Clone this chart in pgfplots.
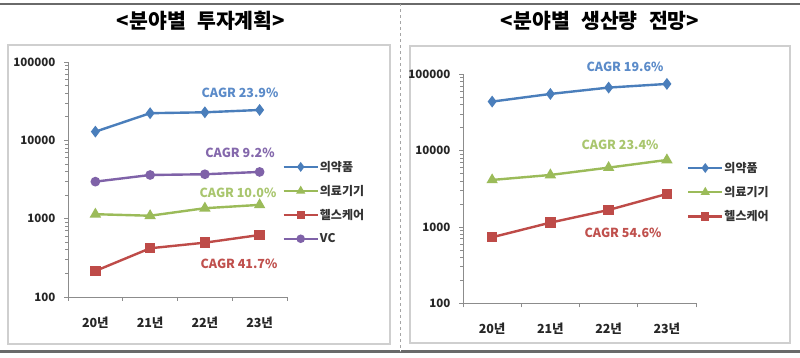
\documentclass[border=0pt]{standalone}
\usepackage{fontspec}
\setmainfont{Noto Sans CJK KR}
\usepackage{pgfplots}
\pgfplotsset{compat=1.18}
\definecolor{cblue}{HTML}{4A7EBB}
\definecolor{cgreen}{HTML}{9BBB59}
\definecolor{cred}{HTML}{BE4B48}
\definecolor{cpurple}{HTML}{7F62A8}
\definecolor{tblue}{HTML}{5B8BC9}
\definecolor{tgreen}{HTML}{A9C66E}
\definecolor{tred}{HTML}{C0504D}
\definecolor{tpurple}{HTML}{8468AC}
\definecolor{axgray}{HTML}{8C8C8C}
\definecolor{boxgray}{HTML}{CFCFCF}
\definecolor{rulegray}{HTML}{6A6A6A}
\pgfplotsset{
  legend image code/.code={\draw[mark repeat=2,mark phase=2,#1,mark size=3bp] plot coordinates {(0bp,0bp) (17bp,0bp) (34bp,0bp)};},
  sblue/.style={color=cblue, line width=2.4bp, mark=diamond*, mark size=4bp, mark options={solid, fill=cblue}},
  sgreen/.style={color=cgreen, line width=2.4bp, mark=triangle*, mark size=4.2bp, mark options={solid, fill=cgreen}},
  sred/.style={color=cred, line width=2.4bp, mark=square*, mark size=4bp, mark options={solid, fill=cred}},
  spurple/.style={color=cpurple, line width=2.4bp, mark=*, mark size=3.6bp, mark options={solid, fill=cpurple}},
}
\begin{document}
\begin{tikzpicture}[x=1bp,y=1bp]
\useasboundingbox (0,0) rectangle (800,357);
\fill[white] (0,0) rectangle (800,357);
% frame lines
\draw[rulegray, line width=2bp] (0,353) -- (800,353);
\draw[rulegray, line width=2.5bp] (0,5.5) -- (800,5.5);
\draw[boxgray!80!black, line width=1.4bp] (400.5,5.5) -- (400.5,353);
\draw[white, line width=0.7bp, dash pattern=on 3bp off 3bp] (400.5,6) -- (400.5,352);
\draw[boxgray, line width=1.5bp] (8,13) rectangle (390,312);
\draw[boxgray, line width=1.5bp] (410,14) rectangle (790,311);
% titles
\node[font=\fontsize{20.5bp}{22bp}\selectfont\bfseries] at (201,336) {<분야별\hspace{0.55em}투자계획>};
\node[font=\fontsize{20.5bp}{22bp}\selectfont\bfseries] at (600,336) {<분야별\hspace{0.55em}생산량\hspace{0.55em}전망>};

% left chart
\begin{axis}[at={(68bp,60bp)}, anchor=south west, width=219bp, height=235bp,
    scale only axis, clip=false,
    xmin=0, xmax=4,
    ymode=log, ymin=100, ymax=100000,
    axis x line*=bottom, axis y line*=left,
    axis line style={draw=axgray, line width=0.8bp},
    xtick={0.5,1.5,2.5,3.5},
    xticklabels={20년,21년,22년,23년},
    major x tick style={draw=none},
    extra x ticks={0,1,2,3,4},
    extra x tick labels={},
    extra x tick style={major x tick style={draw=axgray, line width=0.8bp}},
    ytick={100,1000,10000,100000},
    yticklabels={100,1000,10000,100000},
    minor ytick={},
    major tick length=4bp, tick align=outside,
    tick style={draw=axgray, line width=0.8bp},
    tick label style={font=\fontsize{11.5bp}{13bp}\selectfont\bfseries, text=black!85},
    xticklabel style={yshift=-12bp, font=\fontsize{12.5bp}{14bp}\selectfont\bfseries},
    yticklabel style={xshift=-5bp},
    legend cell align=left,
    legend style={draw=none, fill=none, font=\fontsize{12bp}{14bp}\selectfont\bfseries, text=black!80,
      row sep=10.5bp, nodes={inner sep=1bp}, at={(0.965,0.592)}, anchor=north west}]
\addplot[sblue] coordinates {(0.5,12900) (1.5,22200) (2.5,22800) (3.5,24400)};
\addlegendentry{의약품}
\addplot[sgreen] coordinates {(0.5,1140) (1.5,1090) (2.5,1360) (3.5,1500)};
\addlegendentry{의료기기}
\addplot[sred] coordinates {(0.5,215) (1.5,419) (2.5,494) (3.5,619)};
\addlegendentry{헬스케어}
\addplot[spurple] coordinates {(0.5,2970) (1.5,3610) (2.5,3690) (3.5,3950)};
\addlegendentry{VC}
\end{axis}

% right chart
\begin{axis}[at={(463bp,53.7bp)}, anchor=south west, width=233bp, height=229bp,
    scale only axis, clip=false,
    xmin=0, xmax=4,
    ymode=log, ymin=100, ymax=100000,
    axis x line*=bottom, axis y line*=left,
    axis line style={draw=axgray, line width=0.8bp},
    xtick={0.5,1.5,2.5,3.5},
    xticklabels={20년,21년,22년,23년},
    major x tick style={draw=none},
    extra x ticks={0,1,2,3,4},
    extra x tick labels={},
    extra x tick style={major x tick style={draw=axgray, line width=0.8bp}},
    ytick={100,1000,10000,100000},
    yticklabels={100,1000,10000,100000},
    minor ytick={},
    major tick length=4bp, tick align=outside,
    tick style={draw=axgray, line width=0.8bp},
    tick label style={font=\fontsize{11.5bp}{13bp}\selectfont\bfseries, text=black!85},
    xticklabel style={yshift=-12bp, font=\fontsize{12.5bp}{14bp}\selectfont\bfseries},
    yticklabel style={xshift=-5bp},
    legend cell align=left,
    legend style={draw=none, fill=none, font=\fontsize{12bp}{14bp}\selectfont\bfseries, text=black!80,
      row sep=10.5bp, nodes={inner sep=1bp}, at={(0.948,0.63)}, anchor=north west}]
\addplot[sblue] coordinates {(0.5,43900) (1.5,55300) (2.5,67000) (3.5,74800)};
\addlegendentry{의약품}
\addplot[sgreen] coordinates {(0.5,4130) (1.5,4800) (2.5,5990) (3.5,7550)};
\addlegendentry{의료기기}
\addplot[sred] coordinates {(0.5,733) (1.5,1140) (2.5,1670) (3.5,2710)};
\addlegendentry{헬스케어}
\end{axis}

% CAGR labels
\begin{scope}[every node/.style={font=\fontsize{12.5bp}{15bp}\selectfont\bfseries}]
\node[text=tblue] at (240,264) {CAGR 23.9\%};
\node[text=tpurple] at (240,204) {CAGR 9.2\%};
\node[text=tgreen] at (238,164) {CAGR 10.0\%};
\node[text=tred] at (239,93) {CAGR 41.7\%};
\node[text=tblue] at (625,290) {CAGR 19.6\%};
\node[text=tgreen] at (620,212) {CAGR 23.4\%};
\node[text=tred] at (623,124) {CAGR 54.6\%};
\end{scope}
\end{tikzpicture}
\end{document}
